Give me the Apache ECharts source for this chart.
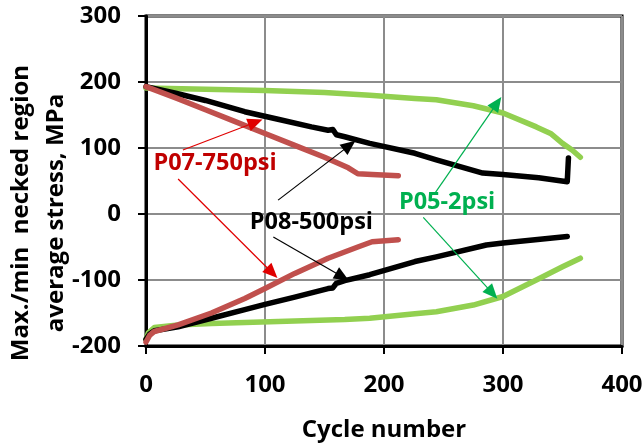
<!DOCTYPE html>
<html>
<head>
<meta charset="utf-8">
<script src="https://cdn.jsdelivr.net/npm/echarts@6/dist/echarts.min.js"></script>
<style>
  html, body { margin: 0; padding: 0; background: #fff; }
  #chart { width: 644px; height: 444px; }
</style>
</head>
<body>
<div id="chart"></div>
<script>
// Axis ticks
const xTicks = [0, 100, 200, 300, 400];
const yTicks = [-200, -100, 0, 100, 200, 300];

// Max / min necked-region average stress (MPa) vs cycle number
const p05Max = [[0,191],[50,189],[100,187],[150,184],[188,180],[226,175],[244,173],[275,164],[300,153],[328,132],[340,122],[350,107],[358,97],[365,86]];
const p05Min = [[0,-190],[2,-180],[7,-172],[27,-168],[55,-166],[111,-163],[167,-160],[188,-158],[226,-151],[244,-148],[275,-138],[300,-125],[328,-100],[350,-80],[365,-67]];

const p08Max = [[0,193],[25,183],[50,172],[83,155],[110,144],[139,132],[153,127],[157,128],[160,120],[167,117],[188,107],[226,92],[244,82],[283,62],[300,60],[330,55],[354,49],[355,85]];
const p08Min = [[0,-190],[3,-182],[7,-177],[27,-171],[55,-158],[83,-145],[100,-137],[125,-126],[153,-113],[157,-112],[160,-105],[167,-101],[188,-92],[226,-72],[244,-65],[286,-47],[300,-44],[354,-34]];

const p07Max = [[0,193],[25,176],[50,158],[75,140],[100,122],[125,104],[150,86],[170,70],[178,61],[190,60],[212,58]];
const p07Min = [[0,-194],[3,-184],[7,-178],[27,-168],[55,-150],[83,-128],[100,-113],[125,-90],[153,-67],[178,-50],[190,-42],[212,-39]];

// Callout labels and their arrows (start -> tip), in data units
const p07Label = { text: 'P07-750psi', at: [58, 77] };
const p08Label = { text: 'P08-500psi', at: [139, -12] };
const p05Label = { text: 'P05-2psi', at: [253, 17] };
const p07Arrows = [[[31, 97], [92, 139]], [[27, 53], [106, -89]]];
const p08Arrows = [[[111, 21], [171, 104]], [[107, -35], [165, -95]]];
const p05Arrows = [[[243, 32], [295, 168]], [[233, -5], [291, -120]]];

const FONT = 'Open Sans';
const GREEN = '#92d050', BLACK = '#000000', RED = '#c0504d';

function curve(name, data, color) {
  return {
    name, type: 'line', data, showSymbol: false, smooth: false, silent: true,
    lineStyle: { color, width: 5.5, cap: 'round', join: 'round' },
    itemStyle: { color }
  };
}

function callout(label, arrows, textColor, arrowColor) {
  return {
    type: 'line', data: [], silent: true,
    markLine: {
      silent: true, animation: false,
      symbol: ['none', 'triangle'], symbolSize: [13, 15],
      label: { show: false },
      lineStyle: { color: arrowColor, width: 1.2, type: 'solid' },
      emphasis: { disabled: true },
      data: arrows.map(a => [{ coord: a[0] }, { coord: a[1] }])
    },
    markPoint: {
      silent: true, animation: false,
      symbol: 'rect', symbolSize: [1, 1],
      itemStyle: { color: 'rgba(0,0,0,0)' },
      label: {
        show: true, position: 'inside', formatter: label.text,
        color: textColor, fontFamily: FONT, fontWeight: 'bold', fontSize: 23.5
      },
      data: [{ coord: label.at }]
    }
  };
}

const axisCommon = {
  nameMoveOverlap: false,
  axisLine: { onZero: false, lineStyle: { color: '#000', width: 3 } },
  axisTick: { show: true, inside: false, length: 8, lineStyle: { color: '#000', width: 2 } },
  splitLine: { show: true, lineStyle: { color: '#8c8c8c', width: 2 } }
};
const tickText = { color: '#000', fontFamily: FONT, fontWeight: 'bold', fontSize: 24 };

const chart = echarts.init(document.getElementById('chart'), null, { renderer: 'canvas' });
chart.setOption({
  animation: false,
  backgroundColor: '#ffffff',
  grid: {
    left: 146, right: 22, top: 16, bottom: 98,
    containLabel: false, outerBoundsMode: 'none',
    show: true, borderColor: '#000', borderWidth: 3, backgroundColor: 'transparent'
  },
  xAxis: Object.assign({
    type: 'value', min: xTicks[0], max: xTicks[xTicks.length - 1], interval: 100,
    name: 'Cycle number', nameLocation: 'middle', nameGap: 72,
    nameTextStyle: { color: '#000', fontFamily: FONT, fontWeight: 'bold', fontSize: 24 },
    axisLabel: Object.assign({ margin: 27 }, tickText)
  }, axisCommon),
  yAxis: Object.assign({
    type: 'value', min: yTicks[0], max: yTicks[yTicks.length - 1], interval: 100,
    name: 'Max./min  necked region\naverage stress, MPa', nameLocation: 'middle', nameGap: 72, nameRotate: 90,
    nameTextStyle: { color: '#000', fontFamily: FONT, fontWeight: 'bold', fontSize: 24, lineHeight: 35, align: 'center', padding: [0, 64, 0, 0] },
    axisLabel: Object.assign({ margin: 25 }, tickText)
  }, axisCommon),
  series: [
    curve('P05-2psi max', p05Max, GREEN),
    curve('P05-2psi min', p05Min, GREEN),
    curve('P08-500psi max', p08Max, BLACK),
    curve('P08-500psi min', p08Min, BLACK),
    curve('P07-750psi max', p07Max, RED),
    curve('P07-750psi min', p07Min, RED),
    callout(p07Label, p07Arrows, '#c00000', '#e00000'),
    callout(p08Label, p08Arrows, '#000000', '#000000'),
    callout(p05Label, p05Arrows, '#00b050', '#00b050')
  ]
});
</script>
</body>
</html>
